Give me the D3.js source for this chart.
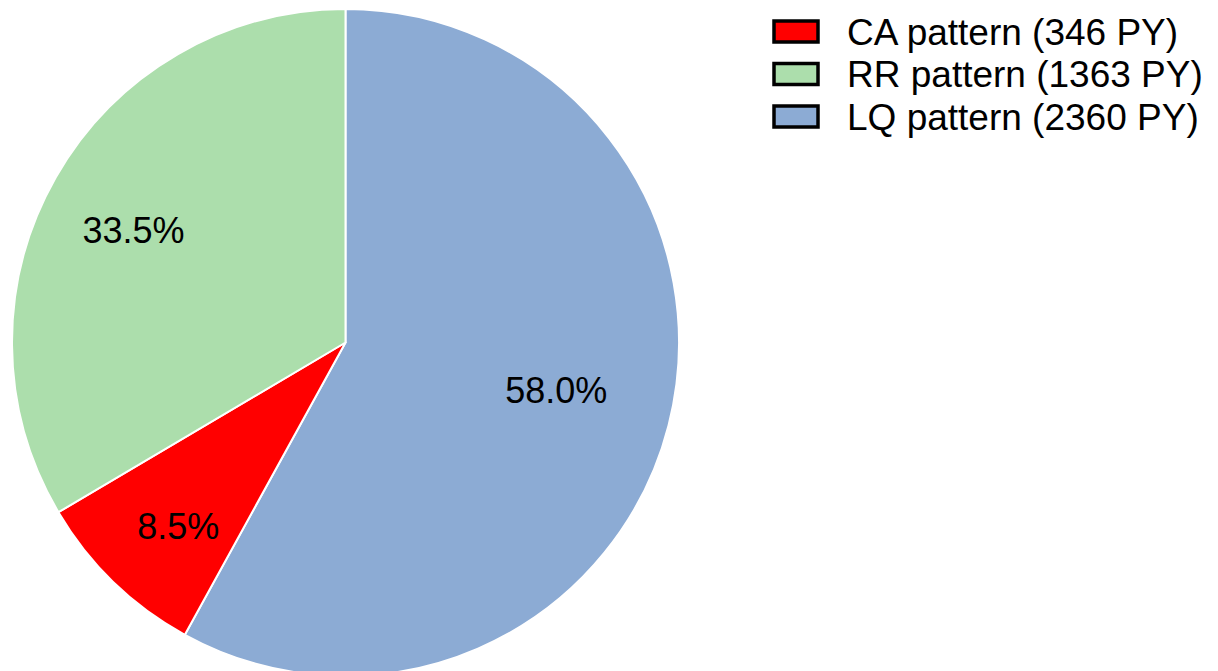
<!DOCTYPE html>
<meta charset="utf-8">
<style>
  body { margin: 0; background: #fff; }
  text { font-family: "Liberation Sans", Arial, sans-serif; }
</style>
<body>
<svg id="pie" width="1218" height="671"></svg>
</body>
<script src="https://d3js.org/d3.v7.min.js"></script>
<script>

// data
var categories = ["LQ pattern", "CA pattern", "RR pattern"];
var personYears = [2360, 346, 1363];
var legendOrder = ["CA pattern", "RR pattern", "LQ pattern"];
var labelDist = [0.648, 0.744, 0.72];   // label radius as share of r

var colors = {"CA pattern": "#ff0000", "RR pattern": "#acdeac", "LQ pattern": "#8cabd4"};

var svg = d3.select("#pie"),
    cx = 345.5, cy = 342.5, r = 333.5;

var total = d3.sum(personYears);
var data = categories.map(function(c, i) { return {name: c, value: personYears[i], k: labelDist[i]}; });

var pie = d3.pie().sort(null).value(function(d) { return d.value; });
var arc = d3.arc().innerRadius(0).outerRadius(r);

var g = svg.append("g").attr("transform", "translate(" + cx + "," + cy + ")");

var slices = g.selectAll(".slice")
    .data(pie(data))
    .enter().append("g")
    .attr("class", "slice");

slices.append("path")
    .attr("d", arc)
    .attr("fill", function(d) { return colors[d.data.name]; })
    .attr("stroke", "#fff")
    .attr("stroke-width", 2)
    .attr("stroke-linejoin", "round");

slices.append("text")
    .attr("transform", function(d) {
      var a = (d.startAngle + d.endAngle) / 2 - 0.03,
          rr = r * d.data.k;
      return "translate(" + (rr * Math.sin(a)) + "," + (-rr * Math.cos(a)) + ")";
    })
    .attr("text-anchor", "middle")
    .attr("dy", "0.36em")
    .style("font-size", "36px")
    .attr("fill", "#000")
    .text(function(d) { return (d.data.value / total * 100).toFixed(1) + "%"; });

// legend
var legend = svg.selectAll(".legend")
    .data(legendOrder)
    .enter().append("g")
    .attr("class", "legend")
    .attr("transform", function(d, i) { return "translate(774," + (21 + i * 42.5) + ")"; });

legend.append("rect")
    .attr("width", 44)
    .attr("height", 21)
    .attr("fill", function(d) { return colors[d]; })
    .attr("stroke", "#000")
    .attr("stroke-width", 3.5);

legend.append("text")
    .attr("x", 73)
    .attr("y", 23.5)
    .style("font-size", "37px")
    .attr("fill", "#000")
    .text(function(d) {
      return d + " (" + personYears[categories.indexOf(d)] + " PY)";
    });
</script>
